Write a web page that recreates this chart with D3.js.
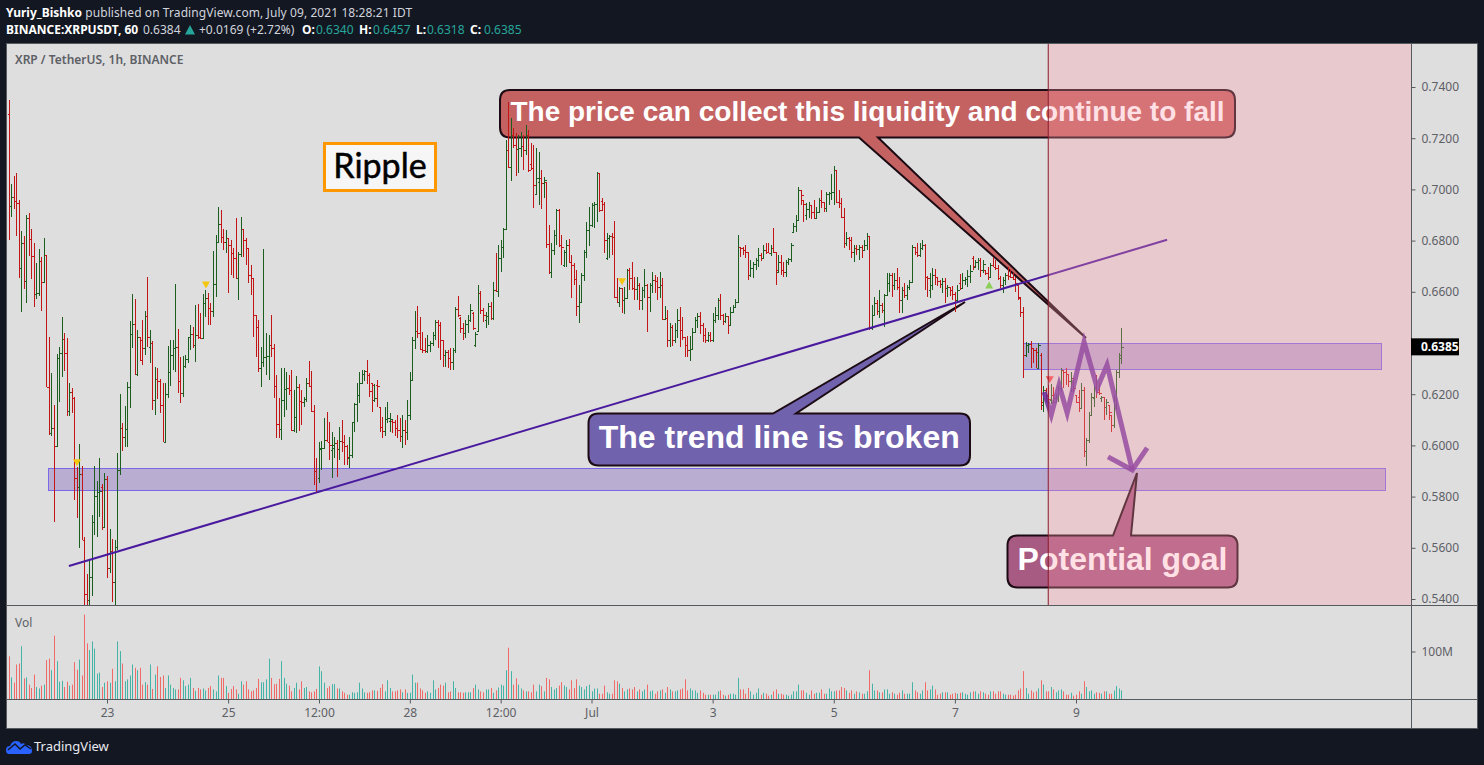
<!DOCTYPE html>
<html>
<head>
<meta charset="utf-8">
<script src="https://cdn.jsdelivr.net/npm/d3@7"></script>
<style>
  html, body { margin: 0; padding: 0; background: #131722; }
  svg { display: block; }
  text { font-family: "Noto Sans", sans-serif; }
  .callout text { font-family: "Liberation Sans", sans-serif; font-weight: 700; fill: #fff; }
</style>
</head>
<body>
<svg id="chart" width="1484" height="765"></svg>
<script>
// hourly bars XRPUSDT: [open, high, low, close] in 1/10000 of a dollar
const priceBars = [
[7295,7349,6803,6935],[6935,7021,6892,6970],[6970,7052,6924,6955],[6955,7064,6818,6947],[6947,6959,6654,6693],[6693,6838,6521,6791],[6791,6818,6611,6642],[6642,6900,6556,6888],[6888,6908,6740,6806],[6806,6845,6650,6740],
[6740,6791,6541,6592],[6592,6713,6572,6595],[6595,6767,6584,6721],[6721,6736,6525,6639],[6639,6810,6639,6744],[6744,6744,6228,6228],[6228,6424,6041,6049],[6049,6283,6037,6068],[6068,6158,5701,5998],[5998,6357,5998,6342],
[6342,6385,6170,6361],[6361,6502,6267,6416],[6416,6439,6291,6361],[6361,6420,6115,6135],[6135,6244,6115,6209],[6209,6224,6127,6185],[6185,6189,5787,5873],[5873,5916,5717,5838],[5838,6006,5600,5889],[5889,5920,5631,5631],
[5631,5642,5280,5420],[5420,5498,5240,5396],[5396,5553,5240,5486],[5486,5728,5412,5701],[5701,5920,5650,5803],[5803,5861,5642,5818],[5818,5951,5721,5822],[5838,5849,5670,5682],[5682,5892,5682,5869],[5869,5881,5482,5521],
[5521,5674,5502,5588],[5588,5635,5389,5467],[5467,5631,5280,5603],[5603,5971,5592,5904],[5904,6201,5885,6068],[6068,6088,5978,6033],[6033,6154,5994,6064],[6064,6248,5994,6228],[6228,6486,6146,6435],[6435,6592,6381,6474],
[6474,6572,6275,6279],[6279,6451,6271,6424],[6424,6424,6330,6334],[6412,6490,6314,6381],[6381,6525,6353,6506],[6506,6658,6385,6424],[6385,6451,6322,6400],[6400,6408,6139,6178],[6178,6306,6119,6260],[6260,6303,6182,6252],
[6252,6260,6127,6158],[6158,6244,6014,6014],[6014,6244,6014,6201],[6201,6388,6185,6287],[6287,6412,6232,6353],[6353,6412,6295,6381],[6381,6631,6287,6385],[6385,6455,6205,6252],[6252,6346,6166,6205],[6205,6349,6189,6310],
[6310,6353,6303,6338],[6338,6424,6322,6424],[6424,6471,6373,6435],[6435,6463,6381,6392],[6392,6549,6326,6431],[6431,6553,6416,6424],[6424,6517,6416,6420],[6420,6592,6420,6556],[6556,6607,6502,6576],[6576,6596,6471,6537],
[6537,6556,6471,6525],[6525,6760,6502,6631],[6631,6822,6580,6795],[6795,6931,6795,6865],[6865,6920,6791,6814],[6814,6845,6764,6795],[6795,6842,6752,6810],[6810,6810,6596,6783],[6783,6803,6666,6752],[6752,6771,6654,6732],
[6732,6888,6650,6654],[6654,6756,6568,6748],[6748,6892,6736,6846],[6846,6846,6736,6803],[6803,6810,6705,6771],[6771,6771,6635,6666],[6666,6705,6588,6654],[6654,6654,6424,6510],[6510,6510,6346,6463],[6463,6490,6287,6303],
[6303,6385,6228,6326],[6326,6767,6306,6346],[6346,6439,6275,6349],[6349,6431,6256,6392],[6392,6510,6346,6381],[6381,6396,6185,6232],[6232,6275,6029,6084],[6084,6185,6029,6064],[6064,6303,6021,6178],[6178,6303,6111,6221],
[6221,6287,6139,6224],[6224,6275,6197,6217],[6217,6295,6057,6060],[6060,6217,6053,6111],[6111,6271,6049,6228],[6228,6240,6057,6174],[6174,6217,6080,6170],[6170,6189,6150,6182],[6182,6264,6170,6244],[6244,6330,6228,6232],
[6232,6291,6131,6135],[6135,6158,5846,5900],[5900,5951,5814,5818],[5873,6014,5853,5990],[5986,6017,5904,5990],[5990,6107,5990,6021],[6021,6131,6014,6014],[6014,6092,5943,6002],[5982,6053,5873,6002],[5990,6033,5951,6010],
[6010,6021,5877,5986],[5986,6072,5943,6017],[6017,6100,5974,6014],[6014,6041,5924,5998],[5998,6002,5924,5955],[5951,6033,5912,5963],[5963,6092,5951,6092],[6092,6166,6053,6162],[6162,6244,6092,6197],[6197,6287,6166,6244],
[6244,6295,6240,6279],[6279,6295,6252,6291],[6291,6334,6240,6275],[6275,6283,6189,6213],[6244,6244,6131,6236],[6178,6240,6170,6185],[6236,6256,6150,6232],[6150,6150,6053,6072],[6072,6111,6029,6057],[6057,6150,6037,6103],
[6103,6170,6088,6107],[6096,6127,6053,6104],[6096,6100,6049,6092],[6092,6100,6037,6068],[6068,6119,6029,6060],[6060,6107,6014,6037],[6037,6119,5990,6060],[6060,6100,6002,6053],[6053,6178,6021,6119],[6119,6287,6100,6256],
[6256,6424,6256,6412],[6412,6525,6377,6447],[6447,6545,6420,6439],[6439,6502,6373,6377],[6377,6443,6361,6373],[6373,6420,6361,6369],[6369,6431,6361,6392],[6392,6408,6365,6400],[6400,6443,6388,6431],[6431,6490,6412,6482],
[6482,6490,6381,6471],[6471,6482,6334,6412],[6412,6412,6306,6353],[6353,6373,6306,6365],[6365,6373,6303,6342],[6342,6381,6295,6326],[6326,6381,6295,6373],[6373,6541,6361,6533],[6533,6584,6502,6510],[6498,6502,6439,6459],
[6459,6478,6412,6439],[6439,6490,6420,6474],[6474,6510,6439,6490],[6490,6553,6482,6529],[6517,6522,6451,6459],[6392,6443,6385,6435],[6447,6627,6443,6596],[6596,6603,6514,6529],[6529,6537,6482,6510],[6490,6522,6459,6506],
[6506,6557,6471,6545],[6545,6561,6490,6498],[6498,6639,6490,6607],[6607,6752,6600,6603],[6603,6783,6580,6732],[6732,6803,6678,6775],[6775,6849,6732,6846],[6846,7193,6846,7154],[7154,7342,7084,7088],[7088,7279,7033,7213],
[7213,7240,7162,7174],[7174,7220,7053,7158],[7158,7213,7064,7162],[7162,7224,7127,7170],[7170,7213,7076,7154],[7154,7252,7135,7213],[7213,7232,7068,7076],[7100,7181,7076,7084],[7084,7174,6928,7017],[6982,7162,6978,7045],
[7029,7146,6939,7045],[7045,7076,6924,7025],[7025,7049,6967,7037],[7029,7029,6771,6787],[6787,6861,6670,6678],[6678,6791,6654,6764],[6764,6842,6744,6822],[6822,6924,6783,6920],[6920,6924,6775,6783],[6783,6822,6705,6775],
[6705,6764,6697,6756],[6756,6803,6697,6783],[6783,6806,6713,6717],[6717,6744,6576,6705],[6705,6713,6627,6650],[6650,6685,6506,6545],[6545,6627,6478,6560],[6560,6674,6557,6666],[6666,6764,6642,6756],[6756,6873,6732,6842],
[6842,6931,6779,6861],[6861,6947,6853,6939],[6939,6951,6849,6943],[6943,7068,6873,7064],[7064,7064,6912,6920],[6955,6967,6916,6943],[6943,6951,6752,6803],[6732,6830,6724,6810],[6810,6822,6732,6818],[6818,6830,6744,6814],
[6814,6877,6576,6580],[6580,6654,6557,6561],[6561,6619,6541,6615],[6615,6615,6517,6568],[6568,6619,6514,6576],[6576,6689,6572,6685],[6685,6693,6607,6654],[6654,6717,6607,6615],[6615,6658,6568,6611],[6611,6658,6568,6627],
[6627,6635,6529,6568],[6568,6619,6529,6607],[6607,6689,6576,6627],[6627,6631,6443,6580],[6580,6635,6521,6627],[6627,6678,6596,6646],[6646,6666,6596,6642],[6642,6658,6568,6619],[6619,6678,6576,6627],[6627,6654,6490,6494],
[6494,6545,6490,6498],[6498,6529,6385,6412],[6412,6478,6385,6463],[6463,6471,6388,6412],[6412,6478,6400,6451],[6451,6533,6420,6490],[6490,6541,6385,6451],[6451,6502,6412,6424],[6424,6424,6346,6392],[6392,6428,6346,6373],
[6373,6428,6330,6377],[6377,6459,6373,6443],[6443,6502,6443,6490],[6490,6518,6459,6506],[6506,6522,6435,6471],[6471,6478,6404,6432],[6432,6459,6400,6412],[6412,6443,6404,6431],[6431,6443,6404,6412],[6412,6518,6404,6490],
[6490,6541,6478,6510],[6510,6576,6490,6568],[6568,6592,6490,6510],[6510,6514,6471,6486],[6486,6518,6478,6506],[6506,6506,6435,6471],[6471,6541,6471,6522],[6522,6549,6518,6541],[6541,6572,6541,6561],[6561,6822,6561,6775],
[6775,6775,6736,6771],[6771,6775,6744,6764],[6764,6783,6732,6756],[6756,6756,6646,6666],[6666,6724,6658,6693],[6693,6717,6654,6709],[6709,6732,6685,6724],[6724,6771,6697,6744],[6744,6752,6721,6732],[6732,6783,6732,6764],
[6764,6791,6748,6756],[6756,6791,6752,6752],[6752,6783,6740,6771],[6771,6849,6752,6756],[6756,6756,6627,6685],[6678,6744,6678,6717],[6717,6744,6666,6685],[6685,6717,6658,6678],[6678,6724,6658,6717],[6717,6732,6705,6728],
[6728,6791,6717,6783],[6834,6869,6834,6857],[6857,6900,6834,6880],[6880,7009,6878,6998],[6998,6998,6939,6978],[6959,6959,6873,6943],[6900,6947,6881,6924],[6924,6951,6888,6939],[6939,6939,6884,6912],[6912,6959,6884,6888],
[6888,6931,6888,6912],[6912,6967,6912,6959],[6959,6998,6928,6951],[6951,6951,6912,6928],[6928,6990,6912,6982],[6982,6990,6939,6986],[6986,7060,6959,6990],[6990,7092,6939,7076],[7076,7076,6947,6951],[6951,6998,6928,6947],
[6947,6967,6888,6892],[6892,6927,6771,6790],[6790,6834,6779,6810],[6810,6814,6764,6803],[6803,6814,6732,6756],[6756,6783,6717,6771],[6771,6783,6744,6767],[6767,6783,6724,6775],[6775,6783,6732,6764],[6764,6803,6764,6783],
[6783,6830,6764,6818],[6818,6818,6451,6459],[6459,6549,6451,6510],[6510,6580,6510,6556],[6556,6568,6510,6525],[6525,6607,6498,6549],[6549,6557,6518,6529],[6529,6592,6463,6588],[6588,6674,6588,6635],[6635,6674,6600,6666],
[6666,6674,6580,6627],[6627,6674,6607,6646],[6646,6693,6607,6619],[6619,6658,6518,6568],[6568,6619,6518,6607],[6607,6635,6576,6588],[6588,6627,6568,6619],[6619,6646,6607,6639],[6639,6783,6639,6775],[6775,6775,6744,6756],
[6756,6791,6736,6744],[6744,6791,6736,6771],[6771,6803,6764,6783],[6783,6787,6607,6658],[6658,6662,6580,6654],[6607,6674,6576,6627],[6627,6693,6607,6666],[6666,6689,6627,6658],[6658,6658,6623,6642],[6642,6646,6615,6631],
[6631,6654,6596,6642],[6642,6654,6557,6615],[6615,6627,6580,6619],[6619,6619,6584,6607],[6607,6623,6568,6592],[6592,6600,6521,6568],[6568,6627,6557,6607],[6635,6670,6607,6615],[6615,6674,6615,6646],[6646,6658,6627,6650],
[6650,6685,6620,6660],[6660,6705,6635,6681],[6732,6740,6685,6700],[6697,6724,6693,6717],[6717,6732,6685,6724],[6724,6732,6658,6685],[6685,6724,6674,6709],[6685,6685,6666,6674],[6674,6697,6646,6658],[6658,6713,6654,6705],
[6705,6736,6697,6697],[6697,6724,6685,6693],[6693,6705,6646,6654],[6654,6660,6615,6625],[6627,6658,6596,6646],[6646,6674,6627,6666],[6666,6697,6646,6662],[6662,6685,6654,6658],[6658,6674,6646,6650],[6650,6658,6600,6635],
[6627,6627,6568,6580],[6576,6576,6502,6521],[6521,6541,6264,6353],[6353,6404,6346,6392],[6392,6400,6361,6396],[6396,6408,6303,6381],[6381,6381,6322,6373],[6373,6381,6303,6365],[6303,6400,6299,6392],[6353,6361,6139,6170],
[6158,6232,6131,6217],[6217,6224,6170,6197],[6197,6236,6160,6180],[6178,6240,6162,6197],[6197,6228,6166,6185],[6170,6201,6170,6193],[6193,6236,6170,6225],[6225,6303,6209,6295],[6295,6295,6225,6285],[6287,6303,6236,6279],
[6279,6279,6228,6250],[6252,6287,6209,6264],[6264,6264,6209,6225],[6197,6197,6166,6170],[6189,6217,6131,6146],[6146,6244,6142,6217],[6217,6228,5955,5978],[5978,6029,5920,6021],[6021,6131,6010,6119],[6119,6205,6119,6189],
[6185,6236,6150,6228],[6228,6275,6185,6209],[6209,6244,6197,6205],[6185,6193,6170,6189],[6189,6189,6100,6150],[6150,6182,6119,6170],[6158,6158,6100,6130],[6119,6119,6053,6080],[6080,6197,6068,6158],[6158,6295,6139,6287],
[6287,6361,6264,6353],[6340,6457,6318,6385]
];

// volume per bar, millions
const volumes = [
90,46,35,73,75,111,44,46,31,24, 52,26,23,29,31,82,85,61,133,80,
37,39,26,37,29,31,78,62,83,50, 177,117,103,121,106,54,56,26,35,38,
35,64,38,121,101,75,38,42,50,73, 66,61,66,31,36,31,73,22,52,69,
47,50,24,50,31,24,21,21,45,40, 28,31,45,24,18,24,21,23,19,24,
28,21,17,50,45,45,28,14,22,28, 21,12,38,31,38,21,17,19,24,43,
36,36,42,85,45,32,33,43,80,45, 33,29,17,24,35,21,38,24,26,17,
15,17,22,69,59,35,24,28,32,32, 23,23,17,14,10,10,15,14,15,35,
23,15,14,15,19,19,18,24,32,17, 40,24,17,17,19,21,15,21,14,14,
52,35,35,23,19,14,17,14,40,21, 24,31,29,35,15,17,38,24,15,15,
14,15,15,15,24,31,21,17,15,21, 21,24,14,19,25,31,29,61,108,59,
31,44,31,23,19,17,17,15,31,17, 31,28,17,45,42,26,21,24,29,36,
29,26,21,40,24,42,29,26,21,28, 31,17,
23,23,12,12,29,15,12,12,40,38, 33,24,17,21,23,21,26,17,21,17,
21,31,17,19,12,17,19,21,14,26, 21,17,17,19,21,23,42,19,23,19,
19,14,19,14,10,10,10,10,10,17, 19,10,8,10,12,12,10,45,21,21,
12,24,17,10,14,23,10,14,12,8, 10,17,21,12,12,10,10,8,10,17,
17,31,19,19,14,10,19,12,14,14, 21,12,12,23,17,17,19,19,26,24,
19,14,19,12,17,15,12,12,17,61, 33,19,19,15,15,21,21,12,15,12,
10,14,19,12,12,12,36,19,15,12, 19,36,19,21,29,21,10,12,15,15,
15,10,12,14,12,14,15,12,10,15, 17,17,12,17,15,12,10,17,17,12,
17,17,12,10,10,10,8,10,19,23, 59,24,12,19,15,17,23,40,31,17,
17,26,21,15,19,21,17,10,10,14, 8,10,17,12,38,26,17,19,12,15,
14,12,17,17,12,12,19,28,23,19
];

const priceTicks = [0.74, 0.72, 0.70, 0.68, 0.66, 0.62, 0.60, 0.58, 0.56, 0.54];
const timeTickBars = [39, 87, 123, 159, 195, 231, 279, 327, 375, 423];
const timeTickLabels = ['23', '25', '12:00', '28', '12:00', 'Jul', '3', '5', '7', '9'];

// drawings, [bar index, price]
const trendLine = [[23.9, 0.5529], [459.1, 0.6803]];
const zoneUpper = { from: 402.1, to: 544, top: 0.6400, bottom: 0.6299 };
const zoneLower = { from: 15.6, to: 545.5, top: 0.5912, bottom: 0.5826 };
const forecastPath = [[410.4, 0.6209], [413.2, 0.6119], [416.3, 0.6236], [419.5, 0.6127], [426.2, 0.6404], [431.4, 0.6224], [435.3, 0.6314], [445.3, 0.5904]];
const forecastHead = [[435.7, 0.5955], [445.3, 0.5904], [451.2, 0.5990]];
const markers = [
  { bar: 27.1, price: 0.5932, down: true, color: '#f5c60e' },
  { bar: 78.2, price: 0.6627, down: true, color: '#f5c60e' },
  { bar: 243.1, price: 0.6639, down: true, color: '#f5c60e' },
  { bar: 388.6, price: 0.6627, down: false, color: '#8bcf5a' },
  { bar: 412.6, price: 0.6256, down: true, color: '#ef4a4a' }
];
const sessionStartBar = 412;
const lastClose = 0.6385;

const svg = d3.select('#chart');
const bg = '#dedede', frame = '#555a5f', axisText = '#5d6066';

const x = d3.scaleLinear().domain([39, 423]).range([107, 1076]);
const y = d3.scaleLinear().domain([0.54, 0.74]).range([599, 87]);
const yVol = d3.scaleLinear().domain([0, 100]).range([699.5, 651.5]);

const pane = { left: 7, right: 1411, top: 44, mid: 605.5, bottom: 699.5, end: 728, outer: 1477 };

// panel
svg.append('rect').attr('x', pane.left - 0.5).attr('y', pane.top - 0.5)
  .attr('width', pane.outer - pane.left + 1).attr('height', pane.end - pane.top + 1)
  .attr('fill', bg).attr('stroke', frame).attr('stroke-width', 1);

svg.append('defs').append('clipPath').attr('id', 'main-clip').append('rect')
  .attr('x', pane.left).attr('y', pane.top).attr('width', pane.right - pane.left).attr('height', pane.mid - pane.top);

const main = svg.append('g').attr('clip-path', 'url(#main-clip)');

// zones sit under the bars
[zoneLower, zoneUpper].forEach(z => {
  main.append('rect')
    .attr('x', Math.round(x(z.from)) + 0.5).attr('y', Math.round(y(z.top)) + 0.5)
    .attr('width', Math.round(x(z.to) - x(z.from))).attr('height', Math.round(y(z.bottom) - y(z.top)))
    .attr('fill', 'rgba(103,58,183,0.3)').attr('stroke', '#7b68e8').attr('stroke-width', 1);
});

// callouts: rounded box with a tail, tail base and tip in pixels
function calloutPath(b, r) {
  const { x0, y0, x1, y1, t0, t1, tipX, tipY, top } = b;
  let p = `M${x0 + r},${y0}`;
  if (top) p += `H${t0}L${tipX},${tipY}L${t1},${y0}`;
  p += `H${x1 - r}Q${x1},${y0} ${x1},${y0 + r}V${y1 - r}Q${x1},${y1} ${x1 - r},${y1}`;
  if (!top) p += `H${t1}L${tipX},${tipY}L${t0},${y1}`;
  p += `H${x0 + r}Q${x0},${y1} ${x0},${y1 - r}V${y0 + r}Q${x0},${y0} ${x0 + r},${y0}Z`;
  return p;
}
const callouts = [
  { label: 'The price can collect this liquidity and continue to fall', fill: '#c46262', size: 28, x0: 500, y0: 90, x1: 1235, y1: 137.5, t0: 859, t1: 878, tipX: 1086, tipY: 338, top: false },
  { label: 'The trend line is broken', fill: '#7062ac', size: 32, x0: 588.5, y0: 413.5, x1: 970, y1: 465.5, t0: 773, t1: 796, tipX: 965, tipY: 302, top: true },
  { label: 'Potential goal', fill: '#a75a82', size: 32, x0: 1007.5, y0: 535.5, x1: 1237.5, y1: 587.5, t0: 1113, t1: 1131, tipX: 1137, tipY: 473, top: true }
];
const calloutG = main.selectAll('g.callout').data(callouts).join('g').attr('class', 'callout');
calloutG.append('path').attr('d', d => calloutPath(d, 10))
  .attr('fill', d => d.fill).attr('stroke', '#1c0b14').attr('stroke-width', 2);

// price bars
const barPath = (d, i) => {
  const px = Math.round(x(i)) + 0.5;
  const o = Math.round(y(d[0] / 10000)) + 0.5, c = Math.round(y(d[3] / 10000)) + 0.5;
  return `M${px},${y(d[1] / 10000)}V${y(d[2] / 10000)}M${px - 2},${o}H${px}M${px},${c}H${px + 2}`;
};
main.append('g').selectAll('path').data(priceBars).join('path')
  .attr('d', barPath)
  .attr('fill', 'none')
  .attr('stroke', d => d[3] >= d[0] ? '#1b5e20' : '#c21616')
  .attr('stroke-width', 1)
  .attr('shape-rendering', 'crispEdges');

// callout text stays above the bars
calloutG.raise();
main.selectAll('g.callout path').attr('visibility', 'hidden');
main.insert('g', 'g').attr('class', 'callout-back').selectAll('path').data(callouts).join('path')
  .attr('d', d => calloutPath(d, 10))
  .attr('fill', d => d.fill).attr('stroke', '#1c0b14').attr('stroke-width', 2);
calloutG.selectAll('*').filter('text').remove();
calloutG.append('text')
  .attr('x', d => (d.x0 + d.x1) / 2).attr('y', d => (d.y0 + d.y1) / 2)
  .attr('dy', '0.26em').attr('text-anchor', 'middle')
  .attr('font-size', d => d.size).text(d => d.label);

// trend line
const toLine = d3.line().x(d => x(d[0])).y(d => y(d[1]));
main.append('path').attr('d', toLine(trendLine)).attr('fill', 'none')
  .attr('stroke', '#4a1a9e').attr('stroke-width', 2);

// forecast zigzag
[forecastPath, forecastHead].forEach(pts => {
  main.append('path').attr('d', toLine(pts)).attr('fill', 'none')
    .attr('stroke', '#6a2a9e').attr('stroke-opacity', 0.85).attr('stroke-width', 5);
});

// signal markers
main.append('g').selectAll('path').data(markers).join('path')
  .attr('transform', d => `translate(${x(d.bar)},${y(d.price)})`)
  .attr('d', d => d.down ? 'M-4,-3.5H4L0,3.5Z' : 'M-4,3.5H4L0,-3.5Z')
  .attr('fill', d => d.color);

// session shading goes over every drawing
main.append('rect')
  .attr('x', x(sessionStartBar)).attr('y', pane.top)
  .attr('width', pane.right - x(sessionStartBar)).attr('height', pane.mid - pane.top)
  .attr('fill', 'rgba(255,155,169,0.3)');
main.append('line')
  .attr('x1', x(sessionStartBar)).attr('x2', x(sessionStartBar))
  .attr('y1', pane.top).attr('y2', pane.mid)
  .attr('stroke', '#8a1a2a').attr('stroke-width', 1);

// Ripple label
const ripple = svg.append('g');
ripple.append('rect').attr('x', 324.5).attr('y', 143.5).attr('width', 111).attr('height', 47)
  .attr('fill', '#f6f6f6').attr('stroke', '#ff9800').attr('stroke-width', 3);
ripple.append('text').attr('x', 380).attr('y', 178).attr('text-anchor', 'middle')
  .attr('font-size', 34).attr('fill', '#000').attr('stroke', '#000').attr('stroke-width', 0.5)
  .style('font-family', 'Lato, sans-serif').text('Ripple');

// volume
svg.append('g').selectAll('rect').data(volumes).join('rect')
  .attr('x', (d, i) => Math.round(x(i)))
  .attr('width', 1)
  .attr('y', d => yVol(d))
  .attr('height', d => yVol(0) - yVol(d))
  .attr('fill', (d, i) => priceBars[i][3] >= priceBars[i][0] ? '#45b3a5' : '#f06a68');

// axes
const styleAxis = g => {
  g.select('.domain').remove();
  g.selectAll('.tick line').attr('stroke', frame);
  g.selectAll('.tick text').attr('fill', axisText).attr('font-size', 12).style('font-family', '"Noto Sans", sans-serif');
};
svg.append('g').attr('transform', `translate(${pane.right + 0.5},0)`)
  .call(d3.axisRight(y).tickValues(priceTicks).tickSize(4).tickPadding(6).tickFormat(d3.format('.4f')))
  .call(styleAxis);
svg.append('g').attr('transform', `translate(${pane.right + 0.5},0)`)
  .call(d3.axisRight(yVol).tickValues([100]).tickSize(4).tickPadding(6).tickFormat(d => d + 'M'))
  .call(styleAxis);
svg.append('g').attr('transform', `translate(0,${pane.bottom})`)
  .call(d3.axisBottom(x).tickValues(timeTickBars).tickSize(4).tickPadding(5).tickFormat((d, i) => timeTickLabels[i]))
  .call(styleAxis);

// pane separators
[[pane.left, pane.outer, pane.mid, pane.mid], [pane.left, pane.outer, pane.bottom, pane.bottom], [pane.right + 0.5, pane.right + 0.5, pane.top, pane.end]].forEach(l => {
  svg.append('line').attr('x1', l[0]).attr('x2', l[1]).attr('y1', l[2]).attr('y2', l[3])
    .attr('stroke', frame).attr('stroke-width', 1);
});

// last price tag
svg.append('rect').attr('x', pane.right).attr('y', y(lastClose) - 8.5).attr('width', 48).attr('height', 17).attr('fill', '#000');
svg.append('text').attr('x', pane.right + 10).attr('y', y(lastClose) + 4.5).attr('font-size', 12)
  .attr('font-weight', 700).attr('fill', '#fff').text(d3.format('.4f')(lastClose));

// pane titles
svg.append('text').attr('x', 15).attr('y', 64).attr('font-size', 12).attr('font-weight', 600).attr('fill', '#5d6066').text('XRP / TetherUS, 1h, BINANCE');
svg.append('text').attr('x', 15).attr('y', 627).attr('font-size', 12).attr('fill', '#5d6066').text('Vol');

// publish header
const head = svg.append('g').attr('font-size', 12).attr('fill', '#d1d4dc');
const line1 = head.append('text').attr('x', 6).attr('y', 17);
line1.append('tspan').attr('font-weight', 700).attr('fill', '#fff').text('Yuriy_Bishko');
line1.append('tspan').attr('letter-spacing', 0.08).text(' published on TradingView.com, July 09, 2021 18:28:21 IDT');

const headerBits = [
  { x: 6, t: 'BINANCE:XRPUSDT, 60', bold: true },
  { x: 143, t: '0.6384' },
  { x: 199, t: '+0.0169 (+2.72%)' },
  { x: 302, t: 'O:', bold: true }, { x: 316, t: '0.6340', teal: true },
  { x: 359, t: 'H:', bold: true }, { x: 373, t: '0.6457', teal: true },
  { x: 416, t: 'L:', bold: true }, { x: 427, t: '0.6318', teal: true },
  { x: 470, t: 'C:', bold: true }, { x: 484, t: '0.6385', teal: true }
];
head.selectAll('text.bit').data(headerBits).join('text').attr('class', 'bit')
  .attr('x', d => d.x).attr('y', 34)
  .attr('font-weight', d => d.bold ? 700 : 400)
  .attr('fill', d => d.teal ? '#26a69a' : d.bold ? '#fff' : '#d1d4dc')
  .text(d => d.t);
head.append('path').attr('d', 'M185,34.5L190,25L195,34.5Z').attr('fill', '#26a69a');

// logo
const logo = svg.append('g').attr('transform', 'translate(6,739)');
logo.append('path').attr('d', 'M0,11Q0,7 4,7Q6,2 10,2Q14,2 15,5Q18,3 20,6Q26,6 26,12Q26,15 23,15H3Q0,15 0,11Z').attr('fill', '#2962ff');
logo.append('path').attr('d', 'M2,11L9,5L14,10L19,6L25,10').attr('fill', 'none').attr('stroke', '#131722').attr('stroke-width', 1.5);
svg.append('text').attr('x', 34).attr('y', 751).attr('font-size', 13).attr('fill', '#e8eaf0').text('TradingView');
</script>
</body>
</html>
